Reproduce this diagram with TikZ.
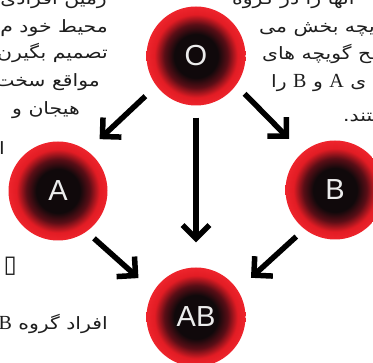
\documentclass[tikz,border=0pt]{standalone}
\usepackage{fontspec}
\setmainfont{Liberation Serif}
\newfontfamily\fafont[Script=Arabic, FakeStretch=1.2]{DejaVu Sans}
\newfontfamily\symfont{DejaVu Sans}
\newfontfamily\labfont{Liberation Sans}
\TeXXeTstate=1
\usetikzlibrary{arrows.meta}
\definecolor{cellcore}{RGB}{16,9,11}
\definecolor{cellmid}{RGB}{90,14,22}
\definecolor{cellred}{RGB}{226,28,36}
\definecolor{cellrim}{RGB}{238,36,44}
\definecolor{labelgray}{RGB}{236,236,236}
\definecolor{textgray}{RGB}{30,30,30}
\pgfdeclareradialshading{bloodcell}{\pgfpoint{0bp}{0bp}}{color(0bp)=(cellcore); color(11bp)=(cellcore); color(16bp)=(cellmid); color(21bp)=(cellred); color(25bp)=(cellrim); color(50bp)=(cellrim)}
\tikzset{
  cell/.style={circle, minimum size=99pt, inner sep=0pt, shade, shading=bloodcell,
    text=labelgray, font=\labfont\fontsize{29}{29}\selectfont},
  arr/.style={line width=5.5pt, draw=black, -{Straight Barb[angle=90:19pt, sharp]}},
  txt/.style={font=\fafont\fontsize{17}{17}\selectfont, text=textgray, inner sep=0pt},
  boxsym/.style={font=\symfont\fontsize{24}{24}\selectfont, text=textgray, inner sep=0pt}
}
\newcommand{\latl}[1]{{\rmfamily\fontsize{20}{20}\selectfont #1}}
\begin{document}
\begin{tikzpicture}[x=1pt,y=1pt]
\useasboundingbox (0,0) rectangle (373,363);
\fill[white] (0,0) rectangle (373,363);
\clip (0,0) rectangle (373,363);
% text fragments, left column
\node[txt, anchor=base east] (l1) at (107,358) {\beginR زمین افرادی\endR};
\node[txt, anchor=base east] (l2) at (108,330) {\beginR محیط خود م\endR};
\node[txt, anchor=base east] (l3) at (108,304) {\beginR تصمیم بگیرن\endR};
\node[txt, anchor=base east] (l4) at (100,276) {\beginR مواقع سخت،\endR};
\node[txt, anchor=base east] (l5) at (80,248) {\beginR هیجان و\endR};
\node[txt, anchor=base east] (l6) at (5,208) {\beginR ا\endR};
\node[boxsym, anchor=east] (l7) at (17,97) {▯};
\node[txt, anchor=base east] (l8) at (108,33) {\beginR افراد گروه \beginL\latl{B}\endL\endR};
% text fragments, right column
\node[txt, anchor=base west] (r1) at (232,358) {\beginR آنها را در گروه\endR};
\node[txt, anchor=base west] (r2) at (259,330) {\beginR گویچه بخش می\endR};
\node[txt, anchor=base west] (r3) at (262,303) {\beginR سطح گویچه های\endR};
\node[txt, anchor=base west] (r4) at (271,275) {\beginR ی \beginL\latl{A}\endL{} و \beginL\latl{B}\endL{} را\endR};
\node[txt, anchor=base west] (r5) at (343,241) {\beginR ستند.\endR};
% cells
\node[cell] (o) at (196,307) {O};
\node[cell] (a) at (58,172) {A};
\node[cell] (b) at (335,173) {B};
\node[cell] (ab) at (196,46) {AB};
% arrows
\draw[arr, shorten <=15pt, shorten >=17pt] (o.217) -- (a.54);
\draw[arr, shorten <=12pt, shorten >=19pt] (o.324) -- (b.131);
\draw[arr, shorten <=12pt, shorten >=25pt] (o.270) -- (ab.90);
\draw[arr, shorten <=10pt, shorten >=20pt] (a.305) -- (ab.149);
\draw[arr, shorten <=11pt, shorten >=18pt] (b.232) -- (ab.33);
\end{tikzpicture}
\end{document}
